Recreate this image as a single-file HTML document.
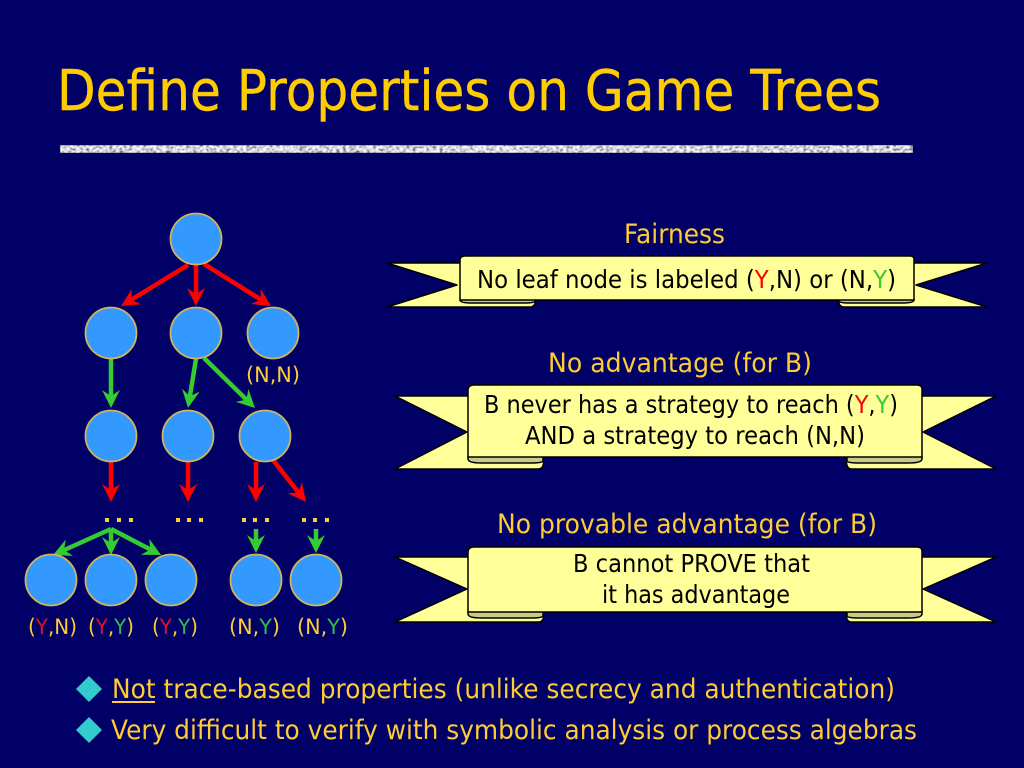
<!DOCTYPE html>
<html><head><meta charset="utf-8">
<style>
html,body{margin:0;padding:0;background:#000066;width:1024px;height:768px;overflow:hidden}
svg{display:block}
text{font-family:"DejaVu Sans","Liberation Sans",sans-serif}
.y{fill:#ffcc33}.k{fill:#000}.r{fill:#ff0000}.g{fill:#33cc33}.lg{fill:#2fbf4f}
.n{fill:#3399ff;stroke:#d1b45c;stroke-width:1.8}
.a{stroke-width:4.5;fill:none}
.t{fill:#ffff99;stroke:#000;stroke-width:1.5;stroke-linejoin:round}
.f{fill:#c9c98a;stroke:#000;stroke-width:1.5}
</style></head><body>
<svg width="1024" height="768" viewBox="0 0 1024 768" xmlns="http://www.w3.org/2000/svg">
<defs>
<marker id="mr" markerUnits="userSpaceOnUse" markerWidth="22" markerHeight="22" refX="13" refY="9.5" orient="auto"><path d="M0,0.5L18,9.5L0,18.5L6,9.5Z" fill="#ff0000"/></marker>
<marker id="mg" markerUnits="userSpaceOnUse" markerWidth="22" markerHeight="22" refX="13" refY="9.5" orient="auto"><path d="M0,0.5L18,9.5L0,18.5L6,9.5Z" fill="#33cc33"/></marker>
<filter id="noise" x="0" y="0" width="100%" height="100%">
<feTurbulence type="fractalNoise" baseFrequency="0.3 0.45" numOctaves="2" seed="4"/>
<feColorMatrix type="matrix" values="2.6 0 0 0 -0.6  2.6 0 0 0 -0.6  2.6 0 0 0 -0.6  0 0 0 0 1"/>
<feGaussianBlur stdDeviation="0.6"/>
</filter>
</defs>
<rect width="1024" height="768" fill="#000066"/>

<text x="57" y="110" font-size="56" style="fill:#ffcc00;stroke:#ffcc00;stroke-width:0.4" textLength="824" lengthAdjust="spacingAndGlyphs">Define Properties on Game Trees</text>
<rect x="60" y="145" width="853" height="8" filter="url(#noise)"/>

<!-- arrows -->
<g class="a" stroke="#ff0000">
<line x1="188" y1="265" x2="125.3" y2="303.4" marker-end="url(#mr)"/>
<line x1="196" y1="265" x2="196" y2="301" marker-end="url(#mr)"/>
<line x1="204" y1="264" x2="266.8" y2="303.3" marker-end="url(#mr)"/>
<line x1="111" y1="462" x2="111" y2="497" marker-end="url(#mr)"/>
<line x1="188" y1="462" x2="188" y2="497" marker-end="url(#mr)"/>
<line x1="256" y1="462" x2="256" y2="497" marker-end="url(#mr)"/>
<line x1="273" y1="460" x2="302.9" y2="498" marker-end="url(#mr)"/>
</g>
<g class="a" stroke="#33cc33">
<line x1="111" y1="359" x2="111" y2="403" marker-end="url(#mg)"/>
<line x1="196" y1="359" x2="188.8" y2="403" marker-end="url(#mg)"/>
<line x1="204" y1="358" x2="251.4" y2="404.5" marker-end="url(#mg)"/>
<line x1="111" y1="529" x2="57.6" y2="553" marker-end="url(#mg)"/>
<line x1="111" y1="529" x2="111" y2="550" marker-end="url(#mg)"/>
<line x1="111" y1="529" x2="156.6" y2="552.7" marker-end="url(#mg)"/>
<line x1="256" y1="529" x2="256" y2="548" marker-end="url(#mg)"/>
<line x1="316" y1="529" x2="316" y2="548" marker-end="url(#mg)"/>
</g>

<!-- nodes -->
<circle class="n" cx="196" cy="239" r="25.5"/>
<circle class="n" cx="111" cy="333" r="25.5"/>
<circle class="n" cx="196" cy="333" r="25.5"/>
<circle class="n" cx="273" cy="333" r="25.5"/>
<circle class="n" cx="111" cy="436" r="25.5"/>
<circle class="n" cx="188" cy="436" r="25.5"/>
<circle class="n" cx="265" cy="436" r="25.5"/>
<circle class="n" cx="51" cy="580" r="25.5"/>
<circle class="n" cx="111" cy="580" r="25.5"/>
<circle class="n" cx="171" cy="580" r="25.5"/>
<circle class="n" cx="256" cy="580" r="25.5"/>
<circle class="n" cx="316" cy="580" r="25.5"/>

<!-- ellipses -->
<g fill="#ffcc33">
<rect x="105" y="518" width="4" height="4"/><rect x="117" y="518" width="4" height="4"/><rect x="129" y="518" width="4" height="4"/>
<rect x="176" y="518" width="4" height="4"/><rect x="187" y="518" width="4" height="4"/><rect x="199" y="518" width="4" height="4"/>
<rect x="242" y="518" width="4" height="4"/><rect x="253" y="518" width="4" height="4"/><rect x="265" y="518" width="4" height="4"/>
<rect x="302" y="518" width="4" height="4"/><rect x="313" y="518" width="4" height="4"/><rect x="325" y="518" width="4" height="4"/>
</g>

<!-- tree labels -->
<g font-size="21">
<text x="246" y="382" class="y" textLength="54" lengthAdjust="spacingAndGlyphs">(N,N)</text>
<text x="28" y="634" class="y" textLength="49" lengthAdjust="spacingAndGlyphs">(<tspan style="fill:#e0102a">Y</tspan>,N)</text>
<text x="88" y="634" class="y" textLength="46" lengthAdjust="spacingAndGlyphs">(<tspan style="fill:#e0102a">Y</tspan>,<tspan class="lg">Y</tspan>)</text>
<text x="152" y="634" class="y" textLength="46" lengthAdjust="spacingAndGlyphs">(<tspan style="fill:#e0102a">Y</tspan>,<tspan class="lg">Y</tspan>)</text>
<text x="229" y="634" class="y" textLength="51" lengthAdjust="spacingAndGlyphs">(N,<tspan class="lg">Y</tspan>)</text>
<text x="297" y="634" class="y" textLength="51" lengthAdjust="spacingAndGlyphs">(N,<tspan class="lg">Y</tspan>)</text>
</g>

<!-- headings -->
<g font-size="27">
<text x="624" y="243" class="y" textLength="101" lengthAdjust="spacingAndGlyphs">Fairness</text>
<text x="548" y="372" class="y" textLength="264" lengthAdjust="spacingAndGlyphs">No advantage (for B)</text>
<text x="497" y="533" class="y" textLength="380" lengthAdjust="spacingAndGlyphs">No provable advantage (for B)</text>
</g>

<!-- ribbon 1 -->
<path class="t" d="M462,263H387L457,285L387,307H531Q536,306 535,300H462Z"/>
<path class="t" d="M912,263H987L916,285L987,307H843Q838,306 839,300H912Z"/>
<path class="f" d="M460,299V300Q460,303 472,303H524Q535,303 535,301V299Z"/>
<path class="f" d="M914,299V300Q914,303 902,303H850Q839,303 839,301V299Z"/>
<path class="t" d="M460,260Q460,256 465,256H910Q914,256 914,259V300H460Z"/>

<!-- ribbon 2 -->
<path class="t" d="M470,396H395L467,432L395,469H539Q545,468 543,457H470Z"/>
<path class="t" d="M920,396H996L923,432L996,469H851Q845,468 847,457H920Z"/>
<path class="f" d="M468,456V459Q468,463 482,463H530Q543,463 543,461V456Z"/>
<path class="f" d="M922,456V459Q922,463 908,463H860Q847,463 847,461V456Z"/>
<path class="t" d="M468,390Q468,385 474,385H917Q922,385 922,389V457H468Z"/>

<!-- ribbon 3 -->
<path class="t" d="M470,557H395L467,589L395,622H539Q545,621 543,612H470Z"/>
<path class="t" d="M920,557H996L923,589L996,622H851Q845,621 847,612H920Z"/>
<path class="f" d="M468,611V614Q468,618 482,618H530Q543,618 543,616V611Z"/>
<path class="f" d="M922,611V614Q922,618 908,618H860Q847,618 847,616V611Z"/>
<path class="t" d="M468,552Q468,547 474,547H917Q922,547 922,551V612H468Z"/>

<!-- ribbon text -->
<g font-size="24.5">
<text x="477" y="288" class="k" textLength="419" lengthAdjust="spacingAndGlyphs">No leaf node is labeled (<tspan class="r">Y</tspan>,N) or (N,<tspan class="g">Y</tspan>)</text>
<text x="484" y="413" class="k" textLength="414" lengthAdjust="spacingAndGlyphs">B never has a strategy to reach (<tspan class="r">Y</tspan>,<tspan class="g">Y</tspan>)</text>
<text x="525" y="444" class="k" textLength="340" lengthAdjust="spacingAndGlyphs">AND a strategy to reach (N,N)</text>
<text x="573" y="572" class="k" textLength="237" lengthAdjust="spacingAndGlyphs">B cannot PROVE that</text>
<text x="602" y="603" class="k" textLength="188" lengthAdjust="spacingAndGlyphs">it has advantage</text>
</g>

<!-- bullets -->
<path d="M89,676L102,689L89,702L76,689Z" fill="#33cccc"/>
<path d="M89,717L102,730L89,743L76,730Z" fill="#33cccc"/>
<g font-size="27">
<text x="112" y="698" class="y" textLength="783" lengthAdjust="spacingAndGlyphs">Not trace-based properties (unlike secrecy and authentication)</text>
<text x="111" y="739" class="y" textLength="806" lengthAdjust="spacingAndGlyphs">Very difficult to verify with symbolic analysis or process algebras</text>
</g>
<rect x="112" y="701" width="43" height="2" fill="#ffcc33"/>
</svg>
</body></html>
